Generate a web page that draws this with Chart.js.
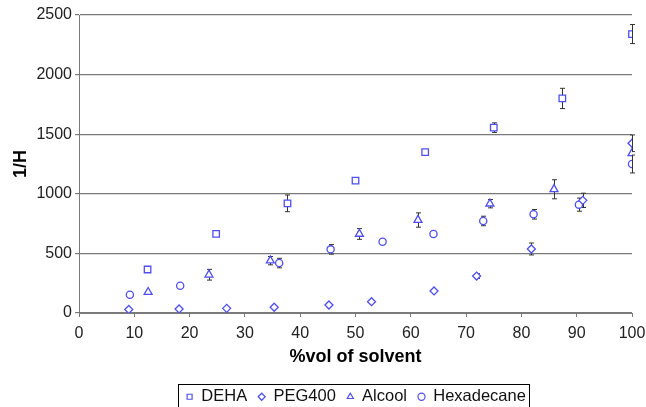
<!DOCTYPE html>
<html>
<head>
<meta charset="utf-8">
<script src="https://cdn.jsdelivr.net/npm/chart.js@4.4.0/dist/chart.umd.min.js"></script>
<style>
  html, body { margin: 0; padding: 0; background: #fff; }
  #wrap { width: 646px; height: 407px; }
</style>
</head>
<body>
<div id="wrap"><canvas id="myChart" width="646" height="407"></canvas></div>
<script>
'use strict';

// values
let dehaX = [12.4, 24.8, 37.7, 50, 62.6, 75, 87.4, 100];
let dehaY = [365, 663, 920, 1110, 1350, 1555, 1800, 2340];
let dehaErr = [0, 0, 70, 0, 15, 40, 85, 80];

let pegX = [9, 18.1, 26.7, 35.3, 45.2, 52.9, 64.2, 71.9, 81.8, 91.1, 100];
let pegY = [30, 34, 39, 48, 67, 95, 185, 310, 537, 945, 1424];
let pegErr = [0, 0, 0, 0, 0, 0, 0, 20, 50, 60, 70];

let alcoolX = [12.5, 23.5, 34.6, 50.7, 61.3, 74.3, 85.9, 100];
let alcoolY = [175, 321, 439, 663, 780, 917, 1038, 1340];
let alcoolErr = [0, 45, 35, 45, 60, 35, 80, 0];

let hexX = [9.2, 18.3, 36.2, 45.5, 54.9, 64.1, 73.1, 82.2, 90.4, 100];
let hexY = [153, 229, 419, 534, 598, 663, 772, 828, 909, 1250];
let hexErr = [0, 0, 40, 40, 15, 0, 40, 40, 55, 75];

let yTicks = [0, 500, 1000, 1500, 2000, 2500];
let xTicks = [0, 10, 20, 30, 40, 50, 60, 70, 80, 90, 100];

let blue = '#4f4ff0';
let grey = '#7a7a7a';

function pts(xs, ys){
    let out = [];
    for(let i = 0; i < xs.length; i++){
        out.push({x: xs[i], y: ys[i]});
    }
    return out;
}

function makeSet(label, xs, ys, errs, style, radius){
    return {
        label: label,
        data: pts(xs, ys),
        errors: errs,
        pointStyle: style,
        pointRadius: radius,
        pointHoverRadius: radius,
        borderColor: blue,
        backgroundColor: '#fff',
        borderWidth: 1.3,
        showLine: false
    };
}

// error bars, drawn under the markers
let errorBars = {
    id: 'errorBars',
    beforeDatasetsDraw(chart){
        let ctx = chart.ctx;
        let xs = chart.scales.x;
        let ys = chart.scales.y;
        ctx.save();
        ctx.strokeStyle = '#333';
        ctx.lineWidth = 1;
        chart.data.datasets.forEach(ds => {
            ds.data.forEach((p, i) => {
                let e = ds.errors[i];
                if(!e) return;
                let px = Math.round(xs.getPixelForValue(p.x)) + 0.5;
                let top = ys.getPixelForValue(p.y + e);
                let bot = ys.getPixelForValue(p.y - e);
                ctx.beginPath();
                ctx.moveTo(px, top);
                ctx.lineTo(px, bot);
                ctx.moveTo(px - 2.5, top);
                ctx.lineTo(px + 2.5, top);
                ctx.moveTo(px - 2.5, bot);
                ctx.lineTo(px + 2.5, bot);
                ctx.stroke();
            });
        });
        ctx.restore();
    }
};

let legendShiftY = 10;
let legendShiftX = 40;

// move the legend row a bit and put a box round it
let legendBox = {
    id: 'legendBox',
    afterLayout(chart){
        let lg = chart.legend;
        if(!lg) return;
        lg.top += legendShiftY;
        lg.bottom += legendShiftY;
        lg.left += legendShiftX;
        lg.right += legendShiftX;
    },
    afterDraw(chart){
        let lg = chart.legend;
        if(!lg || !lg.legendHitBoxes.length) return;
        let hb = lg.legendHitBoxes;
        let first = hb[0];
        let last = hb[hb.length - 1];
        let ctx = chart.ctx;
        ctx.save();
        ctx.strokeStyle = '#000';
        ctx.lineWidth = 1;
        let l = Math.round(first.left - 8) + 0.5;
        let r = Math.round(last.left + last.width + 3) + 0.5;
        let t = Math.round(first.top - 5) + 0.5;
        let b = Math.round(first.top + first.height + 5) + 0.5;
        ctx.strokeRect(l, t, r - l, b - t);
        ctx.restore();
    }
};

let ctx = document.getElementById('myChart');
let myChart = new Chart(ctx, {
    type: 'scatter',
    data: {
        datasets: [
            makeSet('DEHA', dehaX, dehaY, dehaErr, 'rect', 4.6),
            makeSet('PEG400', pegX, pegY, pegErr, 'rectRot', 4),
            makeSet('Alcool', alcoolX, alcoolY, alcoolErr, 'triangle', 4.6),
            makeSet('Hexadecane', hexX, hexY, hexErr, 'circle', 3.6)
        ]
    },
    options: {
        responsive: false,
        animation: false,
        events: [],
        layout: { padding: { left: 0, right: 14, top: 15, bottom: 2 } },
        plugins: {
            tooltip: { enabled: false },
            legend: {
                position: 'bottom',
                labels: {
                    usePointStyle: true,
                    boxHeight: 5,
                    boxWidth: 7,
                    padding: 11,
                    color: '#111',
                    font: { family: 'Liberation Sans', size: 16.5 },
                    generateLabels(chart){
                        return chart.data.datasets.map((ds, i) => ({
                            text: ds.label,
                            pointStyle: ds.pointStyle,
                            strokeStyle: blue,
                            fillStyle: '#fff',
                            lineWidth: 1.2,
                            fontColor: '#111',
                            datasetIndex: i
                        }));
                    }
                }
            }
        },
        scales: {
            x: {
                type: 'linear',
                min: 0,
                max: 100,
                afterBuildTicks(scale){
                    scale.ticks = xTicks.map(v => ({value: v}));
                },
                afterFit(scale){
                    scale.height = 407 - 313 - 2 - scale.chart.legend.height;
                    scale.paddingRight = 0;
                    scale.paddingLeft = 0;
                },
                grid: { drawOnChartArea: false, drawTicks: true, tickLength: 4, color: grey },
                border: { color: grey, width: 1 },
                ticks: {
                    padding: 7,
                    maxRotation: 0,
                    color: '#222',
                    font: { family: 'Liberation Sans', size: 16 },
                    callback: v => String(v)
                },
                title: {
                    display: true,
                    text: '%vol of solvent',
                    color: '#000',
                    padding: { top: 4, bottom: 0 },
                    font: { family: 'Liberation Sans', size: 18, weight: 'bold' }
                }
            },
            y: {
                min: 0,
                max: 2500,
                afterBuildTicks(scale){
                    scale.ticks = yTicks.map(v => ({value: v}));
                },
                afterFit(scale){
                    scale.width = 79;
                },
                grid: { drawTicks: true, tickLength: 4, color: grey, lineWidth: 1.2 },
                border: { color: grey, width: 1 },
                ticks: {
                    padding: 3,
                    color: '#222',
                    font: { family: 'Liberation Sans', size: 16 },
                    callback: v => String(v)
                },
                title: {
                    display: true,
                    text: '1/H',
                    color: '#000',
                    padding: { top: 10, bottom: 0 },
                    font: { family: 'Liberation Sans', size: 18, weight: 'bold' }
                }
            }
        }
    },
    plugins: [errorBars, legendBox]
});
</script>
</body>
</html>
